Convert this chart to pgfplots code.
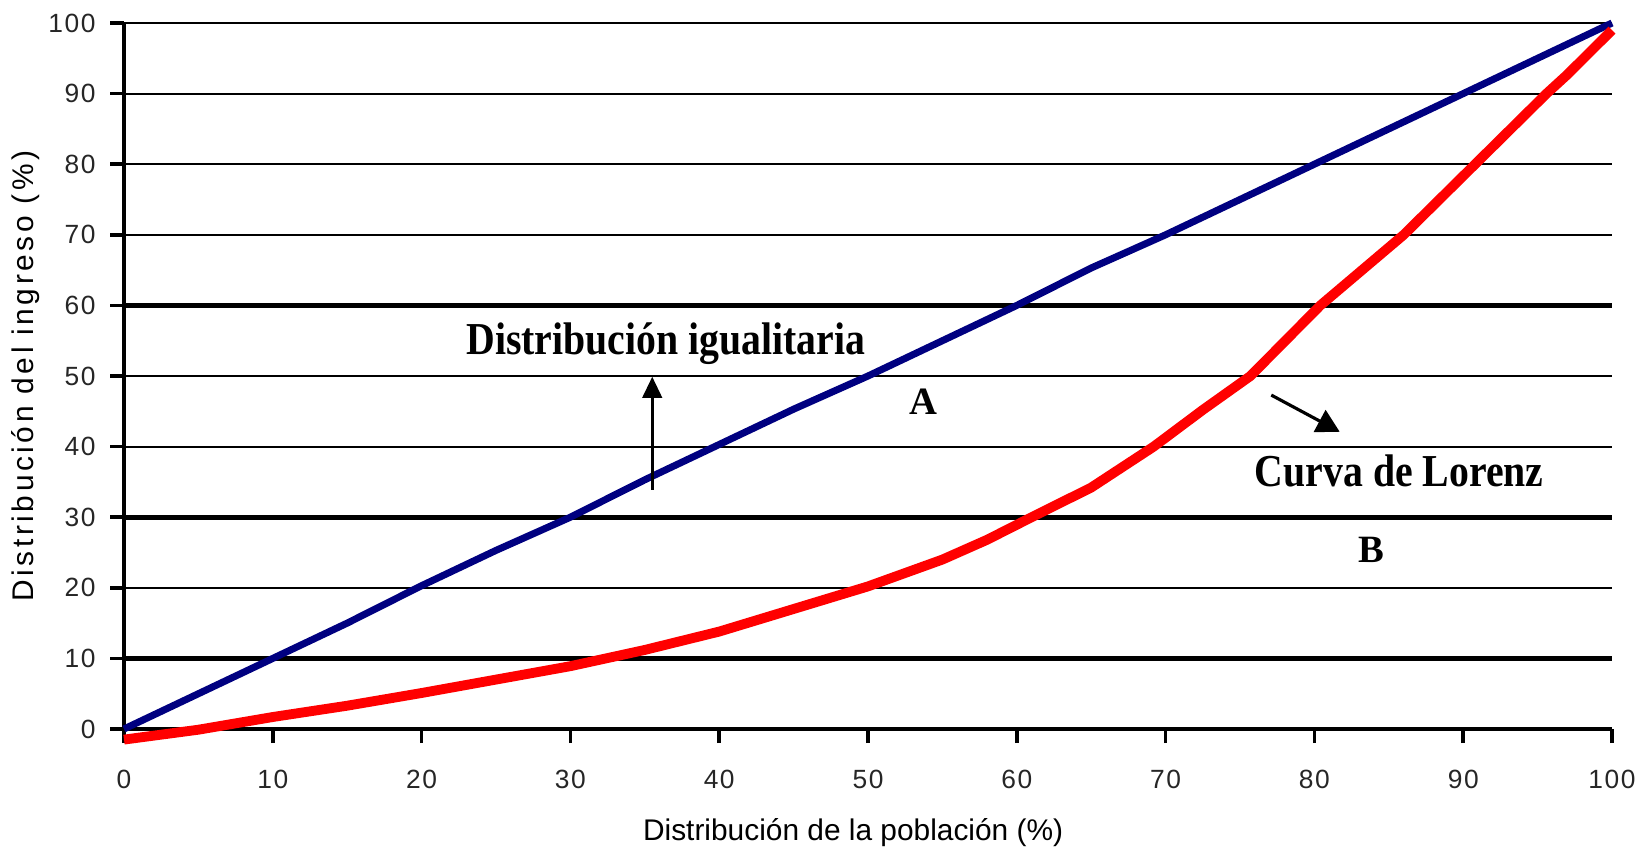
\documentclass[border=0pt]{standalone}
\usepackage{fontspec}
\setmainfont{Liberation Serif}
\setsansfont{Liberation Sans}
\newfontfamily\ticksfont[LetterSpace=6]{Liberation Sans}
\newfontfamily\ylabfont[LetterSpace=12]{Liberation Sans}
\newfontfamily\xlabfont{Liberation Sans}
\usepackage{graphicx}
\usepackage{pgfplots}
\pgfplotsset{compat=1.18}
\usetikzlibrary{arrows.meta}
\definecolor{navyline}{RGB}{0,0,128}
\definecolor{redline}{RGB}{255,0,0}
\begin{document}
\begin{tikzpicture}
\useasboundingbox (-1.24,-1.22) rectangle (15.25,7.29);
\begin{axis}[
  scale only axis, width=14.88cm, height=7.06cm,
  xmin=0, xmax=100, ymin=0, ymax=100,
  axis x line*=bottom, axis y line*=left,
  axis line style={-, black, line width=1.3pt},
  xtick={0,10,...,100}, ytick={0,10,...,100},
  tick align=outside, major tick length=0.14cm,
  tick style={black, line width=1pt},
  ymajorgrids, grid style={black, line width=0.6pt},
  clip=false,
  /pgf/number format/assume math mode=true,
  xticklabel style={font=\ticksfont\fontsize{7.5}{9}\selectfont, text=black!85, yshift=-0.15cm},
  yticklabel style={font=\ticksfont\fontsize{7.5}{9}\selectfont, text=black!85, xshift=-0.02cm},
  xlabel={Distribución de la población (\%)},
  ylabel={Distribución del ingreso (\%)},
  xlabel style={font=\xlabfont\fontsize{8.5}{10}\selectfont, at={(axis description cs:0.49,-0.147)}, anchor=center},
  ylabel style={font=\ylabfont\fontsize{8.5}{10}\selectfont, at={(axis description cs:-0.0659,0.5)}, anchor=center},
]
% thicker horizontal rules
\addplot[forget plot, black, line width=1.4pt] coordinates {(0,10) (100,10)};
\addplot[forget plot, black, line width=1.4pt] coordinates {(0,30) (100,30)};
\addplot[forget plot, black, line width=1.4pt] coordinates {(0,60) (100,60)};
% equality line
\addplot[navyline, line width=2pt, line join=round] coordinates {
(0,0) (5,5) (10,10) (15,15) (20,20.3) (25,25.3) (30,30) (35,35.3) (40,40.3)
(45,45.3) (50,50) (55,55) (60,60) (65,65.3) (70,70) (75,75) (80,80)
(85,85) (90,90) (95,95) (100,100)};
% Lorenz curve
\addplot[redline, line width=2.8pt, line join=round] coordinates {
(0,-1.5) (5,-0.1) (10,1.7) (15,3.3) (20,5.1) (25,7) (30,8.9) (35,11.2)
(40,13.8) (45,17) (50,20.2) (55,24) (58,26.8) (61,30) (65,34.2)
(69.2,40) (72.5,45.2) (75.7,50) (80.4,60) (86,70) (90.8,80) (93.2,85)
(95.6,90) (97,92.7) (100,99)};
% annotations
\node[font=\bfseries\fontsize{13}{15}\selectfont] at (axis cs:36.4,54.6) {\scalebox{0.87}[1]{Distribución igualitaria}};
\draw[black, line width=0.9pt, -{Triangle[width=5.5pt,length=6pt]}] (axis cs:35.5,33.9) -- (axis cs:35.5,49.9);
\node[font=\bfseries\fontsize{11}{13}\selectfont] at (axis cs:53.7,46.4) {A};
\draw[black, line width=0.9pt, -{Triangle[width=7pt,length=6.5pt]}] (axis cs:77.1,47.3) -- (axis cs:81.7,42.1);
\node[font=\bfseries\fontsize{13}{15}\selectfont] at (axis cs:85.7,36.5) {\scalebox{0.87}[1]{Curva de Lorenz}};
\node[font=\bfseries\fontsize{11}{13}\selectfont] at (axis cs:83.8,25.4) {B};
\end{axis}
\end{tikzpicture}
\end{document}
